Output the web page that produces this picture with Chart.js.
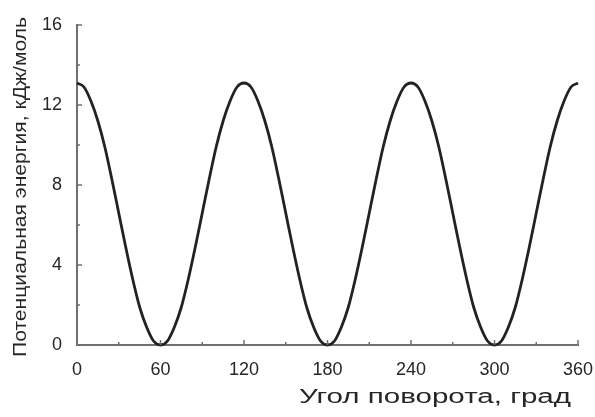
<!DOCTYPE html>
<html>
<head>
<meta charset="utf-8">
<script src="https://cdn.jsdelivr.net/npm/chart.js@4"></script>
<style>
  html, body { margin: 0; padding: 0; background: #fff; }
  #wrap { width: 595px; height: 417px; }
</style>
</head>
<body>
<div id="wrap"><canvas id="energy-chart" width="595" height="417"></canvas></div>
<script>
// rotation angle, degrees
const angles = [
  0, 5, 10, 15, 20, 25, 30, 35, 40, 45, 50, 55, 60, 65, 70, 75, 80, 85, 90, 95, 100, 105, 110, 115,
  120, 125, 130, 135, 140, 145, 150, 155, 160, 165, 170, 175, 180, 185, 190, 195, 200, 205, 210, 215, 220, 225, 230, 235,
  240, 245, 250, 255, 260, 265, 270, 275, 280, 285, 290, 295, 300, 305, 310, 315, 320, 325, 330, 335, 340, 345, 350, 355,
  360
];
// potential energy, kJ/mol
const energy = [
  13.1, 12.9, 12.2, 11.2, 9.9, 8.3, 6.6, 4.9, 3.3, 1.9, 0.9, 0.2, 0, 0.2, 0.9, 1.9, 3.3, 4.9, 6.6, 8.3, 9.9, 11.2, 12.2, 12.9,
  13.1, 12.9, 12.2, 11.2, 9.9, 8.3, 6.6, 4.9, 3.3, 1.9, 0.9, 0.2, 0, 0.2, 0.9, 1.9, 3.3, 4.9, 6.6, 8.3, 9.9, 11.2, 12.2, 12.9,
  13.1, 12.9, 12.2, 11.2, 9.9, 8.3, 6.6, 4.9, 3.3, 1.9, 0.9, 0.2, 0, 0.2, 0.9, 1.9, 3.3, 4.9, 6.6, 8.3, 9.9, 11.2, 12.2, 12.9,
  13.1
];
const xTicks = [0, 60, 120, 180, 240, 300, 360];
const xMinor = [30, 90, 150, 210, 270, 330];
const yTicks = [0, 4, 8, 12, 16];
const yMinor = [2, 6, 10, 14];
const xTitle = 'Угол поворота, град';
const yTitle = 'Потенциальная энергия, кДж/моль';

const axisColor = '#707070';
const textColor = '#262626';

// ticks point inward, so draw them by hand
const inwardTicks = {
  id: 'inwardTicks',
  afterDatasetsDraw(chart) {
    const { ctx, chartArea, scales } = chart;
    ctx.save();
    ctx.strokeStyle = axisColor;
    ctx.lineWidth = 1.5;
    ctx.beginPath();
    xTicks.forEach(v => {
      const px = scales.x.getPixelForValue(v);
      ctx.moveTo(px, chartArea.bottom);
      ctx.lineTo(px, chartArea.bottom - 5);
    });
    xMinor.forEach(v => {
      const px = scales.x.getPixelForValue(v);
      ctx.moveTo(px, chartArea.bottom);
      ctx.lineTo(px, chartArea.bottom - 3);
    });
    yTicks.forEach(v => {
      const py = scales.y.getPixelForValue(v);
      ctx.moveTo(chartArea.left, py);
      ctx.lineTo(chartArea.left + 5, py);
    });
    yMinor.forEach(v => {
      const py = scales.y.getPixelForValue(v);
      ctx.moveTo(chartArea.left, py);
      ctx.lineTo(chartArea.left + 3, py);
    });
    ctx.stroke();
    ctx.restore();
  }
};

// the axis titles in the scan are set in a wide face; stretch them to fit
const axisTitles = {
  id: 'axisTitles',
  afterDraw(chart) {
    const { ctx, chartArea } = chart;
    ctx.save();
    ctx.fillStyle = textColor;
    ctx.textBaseline = 'alphabetic';
    ctx.font = '20px "Liberation Sans"';
    let w = ctx.measureText(xTitle).width;
    const xw = 272;
    ctx.translate(chartArea.right - 7 - xw, 403);
    ctx.scale(xw / w, 1);
    ctx.fillText(xTitle, 0, 0);
    ctx.restore();

    ctx.save();
    ctx.fillStyle = textColor;
    ctx.font = '18px "Liberation Sans"';
    ctx.textAlign = 'center';
    ctx.textBaseline = 'middle';
    w = ctx.measureText(yTitle).width;
    const yw = 340;
    ctx.translate(21, (chartArea.top + chartArea.bottom) / 2 + 2);
    ctx.rotate(-Math.PI / 2);
    ctx.scale(yw / w, 1);
    ctx.fillText(yTitle, 0, 0);
    ctx.restore();
  }
};

const ctx = document.getElementById('energy-chart').getContext('2d');
new Chart(ctx, {
  type: 'line',
  data: {
    datasets: [{
      data: angles.map((a, i) => ({ x: a, y: energy[i] })),
      borderColor: '#222',
      borderWidth: 2.8,
      pointRadius: 0,
      tension: 0.4,
      cubicInterpolationMode: 'monotone',
      clip: false
    }]
  },
  options: {
    responsive: false,
    animation: false,
    layout: { padding: { top: 25, right: 17, left: 0, bottom: 0 } },
    plugins: { legend: { display: false }, tooltip: { enabled: false } },
    scales: {
      x: {
        type: 'linear',
        min: 0,
        max: 360,
        afterBuildTicks: s => { s.ticks = xTicks.map(v => ({ value: v })); },
        afterFit: s => { s.height = 72; s.paddingLeft = 0; s.paddingRight = 0; },
        grid: { display: false },
        border: { color: axisColor, width: 2 },
        ticks: { color: textColor, font: { family: 'Liberation Sans', size: 18 }, padding: 6, maxRotation: 0 }
      },
      y: {
        min: 0,
        max: 16,
        afterBuildTicks: s => { s.ticks = yTicks.map(v => ({ value: v })); },
        afterFit: s => { s.width = 77; },
        grid: { display: false },
        border: { color: axisColor, width: 2 },
        ticks: { color: textColor, font: { family: 'Liberation Sans', size: 18 }, padding: 7 }
      }
    }
  },
  plugins: [inwardTicks, axisTitles]
});
</script>
</body>
</html>
